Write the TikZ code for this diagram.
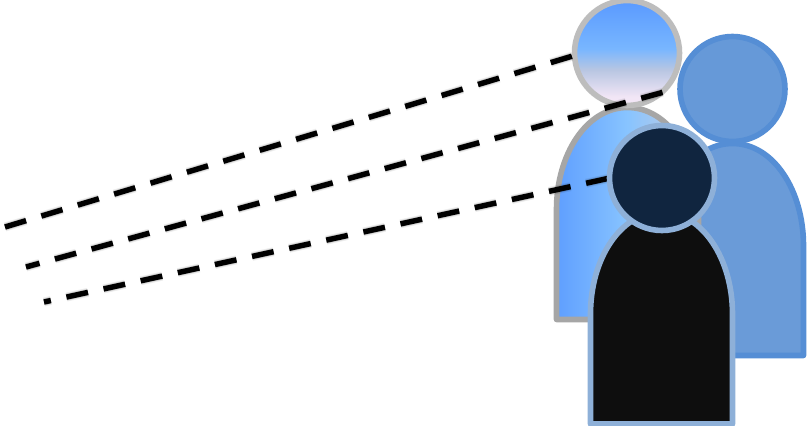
\documentclass[tikz,border=0pt]{standalone}
\definecolor{ht}{HTML}{5B9BFF}
\definecolor{hm}{HTML}{78B6FF}
\definecolor{hm2}{HTML}{B8C6E2}
\definecolor{hb}{HTML}{F2E6F6}
\definecolor{bl}{HTML}{5F9FFF}
\definecolor{bm}{HTML}{88C4FF}
\definecolor{bm2}{HTML}{A8C8EE}
\definecolor{br}{HTML}{C8D4E6}
\definecolor{grayhalo}{HTML}{BDBDBD}
\definecolor{grayline}{HTML}{A6A6A6}
\definecolor{bluefill}{HTML}{6699D8}
\definecolor{bluebody}{HTML}{6A9BD8}
\definecolor{blueline}{HTML}{558ED5}
\definecolor{darkhead}{HTML}{10253F}
\definecolor{darkbody}{HTML}{0E0E0E}
\definecolor{darkline}{HTML}{8EB0D8}
\pgfdeclareverticalshading{grayhead}{100bp}{color(0bp)=(hb); color(29bp)=(hb); color(42bp)=(hm2); color(52bp)=(hm); color(74bp)=(ht); color(100bp)=(ht)}
\pgfdeclarehorizontalshading{graybody}{100bp}{color(0bp)=(bl); color(25bp)=(bl); color(50bp)=(bm); color(62bp)=(bm2); color(75bp)=(br); color(100bp)=(br)}
\tikzset{
  x=1pt,y=-1pt,
  outline/.style={line width=5.6pt,line join=round},
  graybodystyle/.style={outline,draw=grayline,shading=graybody},
  grayheadstyle/.style={outline,draw=grayhalo,shading=grayhead},
  bluebodystyle/.style={outline,draw=blueline,fill=bluebody},
  blueheadstyle/.style={outline,draw=blueline,fill=bluefill},
  darkbodystyle/.style={outline,draw=darkline,fill=darkbody},
  darkheadstyle/.style={outline,draw=darkline,fill=darkhead},
  sightdash/.style={dash pattern=on 22pt off 16pt,dash phase=#1}
}
% #1 style, #2 left x, #3 bottom y (path centre line)
\newcommand{\figbody}[3]{%
  \begin{scope}[shift={(#2,#3)}]
  \path[#1] (0,0) -- (0,-110)
    .. controls (0,-165) and (30,-212) .. (71,-212)
    .. controls (112,-212) and (142,-165) .. (142,-110)
    -- (142,0) -- cycle;
  \end{scope}}
% #1 from, #2 to, #3 phase
\newcommand{\sightline}[3]{%
  \begin{scope}[shift={(2,4)},sightdash=#3,black]
    \draw[line width=9pt,opacity=.07] (#1) -- (#2);
    \draw[line width=7pt,opacity=.12] (#1) -- (#2);
    \draw[line width=5pt,opacity=.20] (#1) -- (#2);
  \end{scope}
  \draw[line width=5.4pt,black,sightdash=#3] (#1) -- (#2);}
\begin{document}
\begin{tikzpicture}
\useasboundingbox (0,0) rectangle (807,426);
\path[fill=white] (0,0) rectangle (807,426);
\coordinate (lineAstart) at (5,227);
\coordinate (lineAend) at (576,55);
\coordinate (lineBstart) at (26,267);
\coordinate (lineBend) at (664,92);
\coordinate (lineCstart) at (44,302);
\coordinate (lineCend) at (610,178);
% blue figure
\figbody{bluebodystyle}{661.5}{355.5}
\path[blueheadstyle] (732.5,89) circle[radius=52.5];
% gray figure
\figbody{graybodystyle}{556.5}{319.5}
\path[grayheadstyle] (627,53) circle[radius=52.5];
% sight lines
\sightline{lineAstart}{lineAend}{0}
\sightline{lineBstart}{lineBend}{8}
\sightline{lineCstart}{lineCend}{15}
% dark figure
\figbody{darkbodystyle}{590.5}{424}
\path[darkheadstyle] (662,178) circle[radius=52.5];
\end{tikzpicture}
\end{document}
